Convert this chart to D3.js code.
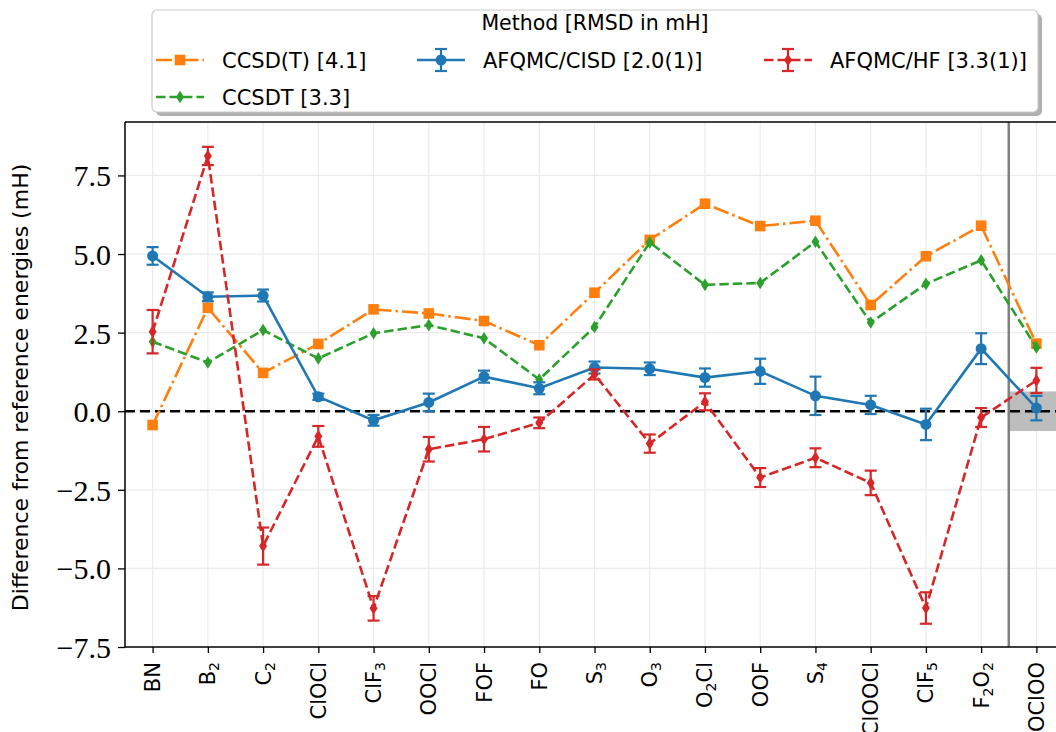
<!DOCTYPE html>
<html><head><meta charset="utf-8">
<script src="https://cdn.jsdelivr.net/npm/d3@7"></script>
<style>body{margin:0;background:#fff}</style>
</head><body><svg id="c" width="1056" height="732"></svg>
<script>
// ---- data ----
const molecules = ["BN","B_2","C_2","ClOCl","ClF_3","OOCl","FOF","FO","S_3","O_3","O_2Cl","OOF","S_4","ClOOCl","ClF_5","F_2O_2","OClOO"];
const ccsdT   = [-0.44, 3.29, 1.22, 2.14, 3.24, 3.11, 2.87, 2.10, 3.77, 5.45, 6.60, 5.89, 6.06, 3.38, 4.93, 5.90, 2.15];
const ccsdt   = [2.21, 1.55, 2.58, 1.68, 2.48, 2.74, 2.32, 1.01, 2.68, 5.37, 4.02, 4.08, 5.39, 2.82, 4.05, 4.80, 2.03];
const cisd    = [4.94, 3.64, 3.68, 0.46, -0.29, 0.28, 1.10, 0.73, 1.39, 1.35, 1.07, 1.27, 0.49, 0.20, -0.42, 1.99, 0.10];
const cisdErr = [0.28, 0.14, 0.19, 0.10, 0.17, 0.28, 0.19, 0.19, 0.19, 0.20, 0.29, 0.40, 0.61, 0.29, 0.50, 0.49, 0.39];
const hf      = [2.53, 8.12, -4.29, -0.80, -6.27, -1.21, -0.89, -0.37, 1.17, -1.03, 0.30, -2.11, -1.48, -2.28, -6.26, -0.20, 0.98];
const hfErr   = [0.69, 0.29, 0.59, 0.33, 0.39, 0.39, 0.39, 0.17, 0.16, 0.29, 0.27, 0.30, 0.30, 0.39, 0.50, 0.30, 0.40];
const yTicks  = [-7.5, -5.0, -2.5, 0.0, 2.5, 5.0, 7.5];
const legendTitle = "Method [RMSD in mH]";
const seriesNames = ["CCSD(T) [4.1]", "CCSDT [3.3]", "AFQMC/CISD [2.0(1)]", "AFQMC/HF [3.3(1)]"];
const bandHalf = 0.63;

// ---- layout ----
const svg = d3.select("#c");
const L = 125, T = 122, B = 647, R = 1064;
const x = d3.scaleLinear().domain([-0.5, molecules.length - 0.5]).range([L, R]);
const y = d3.scaleLinear().domain([-7.5, 9.2]).range([B, T]);

const colors = {o:"#ff7f0e", g:"#2ca02c", b:"#1f77b4", r:"#d62728"};
const SANS = "'DejaVu Sans', sans-serif";

const clipId = "plotclip";
svg.append("clipPath").attr("id", clipId).append("rect").attr("x", L).attr("y", T).attr("width", R - L).attr("height", B - T);
const plot = svg.append("g").attr("clip-path", `url(#${clipId})`);

// grid
plot.selectAll(".gx").data(molecules).join("line")
  .attr("x1", (d,i)=>x(i)).attr("x2", (d,i)=>x(i)).attr("y1", T).attr("y2", B)
  .attr("stroke", "#ebebeb").attr("stroke-width", 1.2);
plot.selectAll(".gy").data(yTicks).join("line")
  .attr("x1", L).attr("x2", R).attr("y1", d=>y(d)).attr("y2", d=>y(d))
  .attr("stroke", "#ebebeb").attr("stroke-width", 1.2);

// separator + band
const sepX = x(molecules.length - 1.5);
plot.append("rect").attr("x", sepX).attr("y", y(bandHalf)).attr("width", R - sepX).attr("height", y(-bandHalf) - y(bandHalf))
  .attr("fill", "#bdbdbd");
plot.append("line").attr("x1", sepX).attr("x2", sepX).attr("y1", T).attr("y2", B)
  .attr("stroke", "#808080").attr("stroke-width", 2.5);

// zero line
plot.append("line").attr("x1", L).attr("x2", R).attr("y1", y(0)).attr("y2", y(0))
  .attr("stroke", "#000").attr("stroke-width", 2.6).attr("stroke-dasharray", "10,5");

const line = d3.line().x((d,i)=>x(i)).y(d=>y(d));

function square(g, cx, cy, c){ g.append("rect").attr("x", cx-5.3).attr("y", cy-5.3).attr("width", 10.6).attr("height", 10.6).attr("fill", c); }
function thinDiamond(g, cx, cy, c){ g.append("path").attr("d", `M${cx},${cy-6.3}L${cx+4},${cy}L${cx},${cy+6.3}L${cx-4},${cy}Z`).attr("fill", c); }
function circle(g, cx, cy, c){ g.append("circle").attr("cx", cx).attr("cy", cy).attr("r", 5.5).attr("fill", c); }
function errbar(g, cx, y1, y2, c){
  g.append("line").attr("x1", cx).attr("x2", cx).attr("y1", y1).attr("y2", y2).attr("stroke", c).attr("stroke-width", 2.2);
  [y1, y2].forEach(v => g.append("line").attr("x1", cx-6).attr("x2", cx+6).attr("y1", v).attr("y2", v).attr("stroke", c).attr("stroke-width", 2.2));
}

const series = [
  {vals: ccsdT, c: colors.o, dash: "16,4,2.5,4", mk: square},
  {vals: ccsdt, c: colors.g, dash: "9.5,4", mk: thinDiamond},
  {vals: cisd, err: cisdErr, c: colors.b, dash: null, mk: circle},
  {vals: hf, err: hfErr, c: colors.r, dash: "9.5,4", mk: thinDiamond}
];
series.forEach(s => {
  const g = plot.append("g");
  g.append("path").datum(s.vals).attr("d", line).attr("fill", "none").attr("stroke", s.c)
    .attr("stroke-width", 2.6).attr("stroke-dasharray", s.dash);
  if (s.err) s.vals.forEach((v,i)=> errbar(g, x(i), y(v + s.err[i]), y(v - s.err[i]), s.c));
  s.vals.forEach((v,i)=> s.mk(g, x(i), y(v), s.c));
});

// spines
svg.append("line").attr("x1", L).attr("x2", L).attr("y1", T).attr("y2", B).attr("stroke", "#000").attr("stroke-width", 1.5);
svg.append("line").attr("x1", L).attr("x2", R).attr("y1", B).attr("y2", B).attr("stroke", "#000").attr("stroke-width", 1.5);
svg.append("line").attr("x1", L).attr("x2", R).attr("y1", T).attr("y2", T).attr("stroke", "#000").attr("stroke-width", 1.5);

// y axis
const yAx = svg.append("g").attr("transform", `translate(${L},0)`)
  .call(d3.axisLeft(y).tickValues(yTicks).tickSize(7).tickPadding(7).tickFormat(d => d3.format(".1f")(d).replace("-", "\u2212")));
yAx.attr("font-family", null).attr("font-size", null);
yAx.select(".domain").remove();
yAx.selectAll("line").attr("stroke", "#000").attr("stroke-width", 1.3);
yAx.selectAll("text").style("font-family", "'Liberation Serif', 'DejaVu Serif', serif").style("font-size", "30px").attr("fill", "#000").attr("dy", "0.35em");

// x axis
const xAx = svg.append("g").attr("transform", `translate(0,${B})`)
  .call(d3.axisBottom(x).tickValues(d3.range(molecules.length)).tickSize(6).tickFormat(""));
xAx.select(".domain").remove();
xAx.selectAll("line").attr("stroke", "#000").attr("stroke-width", 1.3);

molecules.forEach((m, i) => {
  const t = svg.append("text")
    .attr("transform", `translate(${x(i) + 7.5},${B + 15}) rotate(-90)`)
    .attr("text-anchor", "end")
    .style("font-family", SANS).style("font-size", "21px").attr("fill", "#000");
  const parts = m.split(/(_\d)/).filter(p => p.length);
  parts.forEach(p => {
    if (p.startsWith("_")) {
      t.append("tspan").text(p.slice(1)).style("font-size", "14px").attr("dy", 4);
    } else {
      const ts = t.append("tspan").text(p);
      if (t.selectAll("tspan").size() > 1) ts.attr("dy", -4);
    }
  });
});

// y label
svg.append("text").attr("transform", `translate(28,${(T+B)/2 + 3}) rotate(-90)`)
  .attr("text-anchor", "middle").style("font-family", SANS).style("font-size", "22px")
  .attr("fill", "#000").text("Difference from reference energies (mH)");

// legend
const lg = svg.append("g");
const lx = 152, ly = 10, lw = 886, lh = 102;
lg.append("rect").attr("x", lx+4).attr("y", ly+4).attr("width", lw).attr("height", lh).attr("rx", 5).attr("fill", "#b0b0b0");
lg.append("rect").attr("x", lx).attr("y", ly).attr("width", lw).attr("height", lh).attr("rx", 5).attr("fill", "#fff").attr("stroke", "#cccccc").attr("stroke-width", 1.2);
lg.append("text").attr("x", 595).attr("y", 30).attr("text-anchor", "middle").style("font-family", SANS).style("font-size", "20.5px").text(legendTitle);
const legPos = [[156, 60], [156, 97], [417, 60], [764, 60]];
series.forEach((s, k) => {
  const [hx, hy] = legPos[k];
  const g = lg.append("g");
  g.append("line").attr("x1", hx).attr("x2", hx + 48).attr("y1", hy).attr("y2", hy).attr("stroke", s.c)
    .attr("stroke-width", 2.6).attr("stroke-dasharray", s.dash);
  if (s.err) errbar(g, hx + 24, hy - 11, hy + 11, s.c);
  s.mk(g, hx + 24, hy, s.c);
  g.append("text").attr("x", hx + 66).attr("y", hy + 7.5).style("font-family", SANS).style("font-size", "21px").text(seriesNames[k]);
});
</script></body></html>
